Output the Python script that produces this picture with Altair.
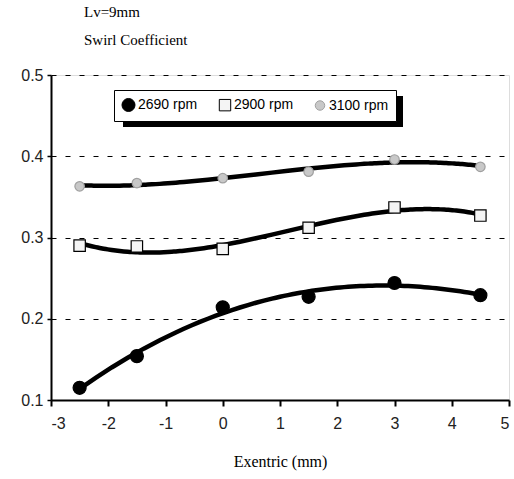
import altair as alt
import pandas as pd

# Data
eccentric = [-2.5, -1.5, 0, 1.5, 3, 4.5]
rpm_2690 = [0.115, 0.154, 0.214, 0.227, 0.244, 0.229]
rpm_2900 = [0.290, 0.289, 0.286, 0.312, 0.337, 0.327]
rpm_3100 = [0.363, 0.367, 0.373, 0.381, 0.396, 0.387]
series_names = ["2690 rpm", "2900 rpm", "3100 rpm"]
x_ticks = [-3, -2, -1, 0, 1, 2, 3, 4, 5]
y_ticks = [0.1, 0.2, 0.3, 0.4, 0.5]

rows = []
for name, vals in zip(series_names, [rpm_2690, rpm_2900, rpm_3100]):
    for x, v in zip(eccentric, vals):
        rows.append({"x": x, "y": v, "series": name})
df = pd.DataFrame(rows)

serif = "Liberation Serif"
sans = "Liberation Sans"

xscale = alt.Scale(domain=[-3, 5], nice=False)
yscale = alt.Scale(domain=[0.1, 0.5], nice=False, zero=False)

xaxis = alt.Axis(values=x_ticks, title="Exentric (mm)", titleFont=serif, titleFontSize=16,
                 titleFontWeight="normal", titleColor="black", titlePadding=22,
                 labelFont=sans, labelFontSize=16, labelColor="#222", labelPadding=9,
                 labelExpr="'' + datum.value",
                 grid=False, domainColor="black", domainWidth=2, tickColor="black",
                 tickSize=6, tickWidth=2)
yaxis = alt.Axis(values=y_ticks, title=None, labelFont=sans, labelFontSize=16,
                 labelColor="#222", labelPadding=4, format=".1f",
                 grid=True, gridColor="black", gridDash=[5, 9], gridWidth=1.2,
                 domainColor="black", domainWidth=2, tickColor="black", tickSize=4,
                 tickWidth=1.5)

leg = dict(title=None, orient="none", legendX=63, legendY=15, direction="horizontal",
           fillColor="white", strokeColor="black", padding=7, labelFont=sans,
           labelFontSize=14, labelColor="black", columnPadding=19,
           symbolStrokeWidth=1, labelOffset=2)

base = alt.Chart(df)

lines = base.transform_regression(
    "x", "y", groupby=["series"], method="poly", order=3, extent=[-2.5, 4.5]
).mark_line(color="black", strokeWidth=4.5).encode(
    x=alt.X("x:Q", scale=xscale, axis=xaxis),
    y=alt.Y("y:Q", scale=yscale, axis=yaxis),
    detail="series:N",
)

points = base.mark_point(strokeWidth=1.2, opacity=1).encode(
    x=alt.X("x:Q", scale=xscale),
    y=alt.Y("y:Q", scale=yscale),
    shape=alt.Shape("series:N", scale=alt.Scale(domain=series_names,
                                                range=["circle", "square", "circle"]),
                    legend=alt.Legend(**leg)),
    color=alt.Color("series:N", scale=alt.Scale(domain=series_names,
                                                range=["black", "black", "#a0a0a0"]),
                    legend=alt.Legend(**leg)),
    fill=alt.Fill("series:N", scale=alt.Scale(domain=series_names,
                                              range=["black", "#f4f4f4", "#c8c8c8"]),
                  legend=alt.Legend(**leg)),
    size=alt.Size("series:N", scale=alt.Scale(domain=series_names, range=[170, 90, 18]),
                  legend=alt.Legend(**leg)),
)

shadow = alt.Chart(alt.Data(values=[{"a": 1}])).mark_rect(color="black").encode(
    x=alt.value(72), x2=alt.value(352), y=alt.value(21), y2=alt.value(52)
)

chart = alt.layer(shadow, lines, points).properties(
    width=458,
    height=325,
    autosize=alt.AutoSizeParams(type="none"),
    padding={"left": 51, "top": 75, "right": 5, "bottom": 79},
    title=alt.TitleParams(["Lv=9mm", "Swirl Coefficient"], anchor="start", frame="group",
                          font=serif, fontSize=15, fontWeight="normal", color="black",
                          offset=19, dx=33, lineHeight=28),
).configure_view(
    stroke="black", strokeWidth=1.2
).configure(background="white")

chart.save("out.html", embed_options={"renderer": "svg", "actions": False})
